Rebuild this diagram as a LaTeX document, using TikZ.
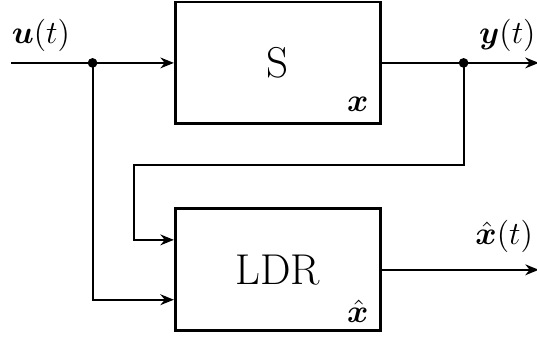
\documentclass[tikz,border=0pt]{standalone}
\usepackage{amsmath,bm}
\usetikzlibrary{arrows.meta,positioning}
\tikzset{
  sysblock/.style={
    draw,
    line width=1.05pt,
    minimum width=2.67cm,
    minimum height=1.59cm,
    inner sep=0pt,
    font=\fontsize{16}{19}\selectfont
  },
  statelabel/.style={
    font=\fontsize{13}{16}\selectfont,
    inner sep=0pt
  },
  signame/.style={
    font=\fontsize{13}{16}\selectfont,
    inner ysep=4pt
  },
  sigarrow/.style={
    -{Stealth[length=5pt,width=4pt]},
    line width=0.75pt
  }
}

\begin{document}
\begin{tikzpicture}[node distance=1.07cm]
    \useasboundingbox (0,0) rectangle (7,-4.38);

    % blocks
    \node[sysblock] (plant) at (3.62,-0.82) {S};
    \node[sysblock, below=of plant] (ldr) {LDR};
    \node[statelabel] (plantstate) at ([xshift=-0.31cm,yshift=0.27cm]plant.south east) {$\bm{x}$};
    \node[statelabel] (ldrstate) at ([xshift=-0.31cm,yshift=0.27cm]ldr.south east) {$\hat{\bm{x}}$};

    % branch points and free ends
    \coordinate[left=2.12cm of plant.west] (uin);
    \coordinate[left=1.06cm of plant.west] (usplit);
    \coordinate[right=1.07cm of plant.east] (ysplit);
    \coordinate[right=2.05cm of plant.east] (yout);
    \coordinate[right=2.05cm of ldr.east] (xout);
    \coordinate (fbcorner) at (1.75,-2.15);

    % signals
    \draw[sigarrow] (uin) -- (plant.west);
    \draw[sigarrow] (plant.east) -- (yout);
    \draw[sigarrow] (ldr.east) -- (xout);
    \draw[sigarrow] (ysplit) |- (fbcorner) |- ([yshift=0.39cm]ldr.west);
    \draw[sigarrow] (usplit) |- ([yshift=-0.39cm]ldr.west);
    \fill (usplit) circle (1.8pt);
    \fill (ysplit) circle (1.8pt);

    % signal names
    \node[signame, above right, inner xsep=0pt] (ulabel) at (uin) {$\bm{u}(t)$};
    \node[signame, above left, inner xsep=1pt] (ylabel) at (yout) {$\bm{y}(t)$};
    \node[signame, above left, inner xsep=2pt, inner ysep=6pt] (xlabel) at (xout) {$\hat{\bm{x}}(t)$};
\end{tikzpicture}
\end{document}
